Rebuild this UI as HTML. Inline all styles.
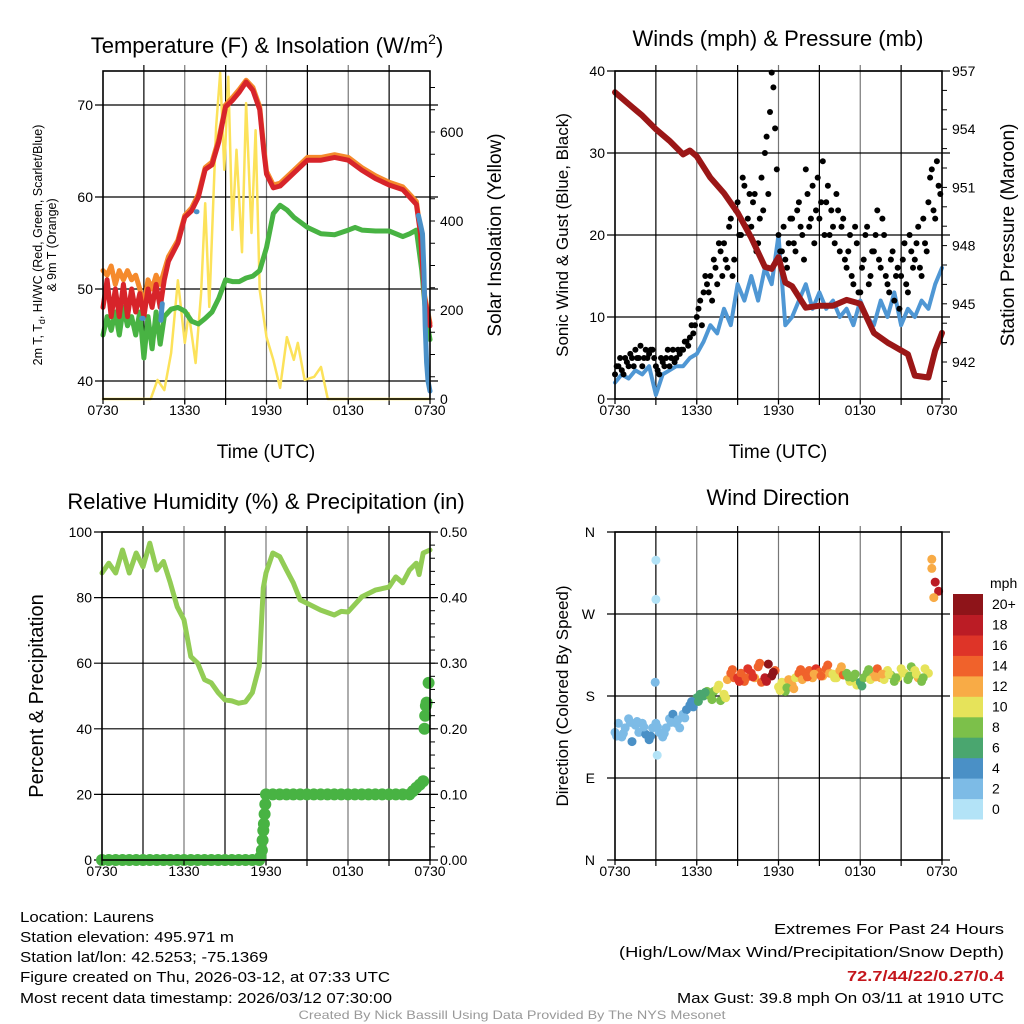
<!DOCTYPE html>
<html><head><meta charset="utf-8">
<style>
html,body{margin:0;padding:0;background:#fff;}
svg{display:block;font-family:"Liberation Sans",Arial,sans-serif;}
</style></head>
<body>
<svg id="c" width="1024" height="1024" viewBox="0 0 1024 1024" xmlns="http://www.w3.org/2000/svg">
<g id="bg"></g>
<g id="marks"></g>
<g id="axes"></g>
<g id="txt" fill="#000">
<text x="267" y="53" font-size="22" text-anchor="middle">Temperature (F) &amp; Insolation (W/m<tspan font-size="14" dy="-9">2</tspan><tspan dy="9">)</tspan></text>
<text x="778" y="46" font-size="22" text-anchor="middle">Winds (mph) &amp; Pressure (mb)</text>
<text x="266" y="509" font-size="22" text-anchor="middle">Relative Humidity (%) &amp; Precipitation (in)</text>
<text x="778" y="505" font-size="22" text-anchor="middle">Wind Direction</text>
<text transform="translate(42,245) rotate(-90)" font-size="12.5" text-anchor="middle">2m T, T<tspan font-size="9" dy="3">d</tspan><tspan dy="-3">, HI/WC (Red, Green, Scarlet/Blue)</tspan></text>
<text transform="translate(56,245) rotate(-90)" font-size="12.5" text-anchor="middle">&amp; 9m T (Orange)</text>
<text transform="translate(501,235) rotate(-90)" font-size="19" text-anchor="middle">Solar Insolation (Yellow)</text>
<text x="266" y="458" font-size="19" text-anchor="middle">Time (UTC)</text>
<text x="778" y="458" font-size="19" text-anchor="middle">Time (UTC)</text>
<text transform="translate(568,235) rotate(-90)" font-size="17" text-anchor="middle">Sonic Wind &amp; Gust (Blue, Black)</text>
<text transform="translate(1014,235) rotate(-90)" font-size="19" text-anchor="middle">Station Pressure (Maroon)</text>
<text transform="translate(43,696) rotate(-90)" font-size="20" text-anchor="middle">Percent &amp; Precipitation</text>
<text transform="translate(568,696) rotate(-90)" font-size="17" text-anchor="middle">Direction (Colored By Speed)</text>
<text x="990" y="588" font-size="14">mph</text>
<g font-size="15">
<text x="20" y="922" textLength="134" lengthAdjust="spacingAndGlyphs">Location: Laurens</text>
<text x="20" y="942" textLength="214" lengthAdjust="spacingAndGlyphs">Station elevation: 495.971 m</text>
<text x="20" y="962" textLength="248" lengthAdjust="spacingAndGlyphs">Station lat/lon: 42.5253; -75.1369</text>
<text x="20" y="982" textLength="370" lengthAdjust="spacingAndGlyphs">Figure created on Thu, 2026-03-12, at 07:33 UTC</text>
<text x="20" y="1003" textLength="372" lengthAdjust="spacingAndGlyphs">Most recent data timestamp: 2026/03/12 07:30:00</text>
</g>
<g font-size="15" text-anchor="end">
<text x="1004" y="934" textLength="230" lengthAdjust="spacingAndGlyphs">Extremes For Past 24 Hours</text>
<text x="1004" y="957" textLength="385" lengthAdjust="spacingAndGlyphs">(High/Low/Max Wind/Precipitation/Snow Depth)</text>
<text x="1004" y="981" fill="#c4161c" font-weight="bold" textLength="157" lengthAdjust="spacingAndGlyphs">72.7/44/22/0.27/0.4</text>
<text x="1004" y="1003" textLength="327" lengthAdjust="spacingAndGlyphs">Max Gust: 39.8 mph On 03/11 at 1910 UTC</text>
</g>
<text x="512" y="1019" font-size="12" fill="#999" text-anchor="middle" textLength="427" lengthAdjust="spacingAndGlyphs">Created By Nick Bassill Using Data Provided By The NYS Mesonet</text>
</g>
</svg>
<script>
// ---------- data ----------
const timeTickLabels = ["0730","1330","1930","0130","0730"];
// Panel 1
const tempTickLabels = [40,50,60,70];
const solarTickLabels = [0,200,400,600];
const tempTimes = [0,0.3,0.6,0.9,1.2,1.5,1.8,2.1,2.4,2.7,3.0,3.3,3.6,3.9,4.2,4.5,4.8,5.5,6,6.5,7,7.5,8,8.5,9,9.5,10,10.5,11,11.5,11.8,12,12.5,13,14,15,16,17,18,19,20,21,22,22.5,23,23.3,23.6,24];
const tempRed = [48,51,47,50,47,50.5,47,50,47.5,49.5,47,50,48,50.5,48,51,53,55,57.8,58.5,60,63,63.5,66,69.8,70.5,71.4,72.5,71.6,69.5,65,62.5,61,61.2,62.6,64,64,64.3,64,62.9,62,61.3,60.8,60,59.2,56,49,46];
const tempOrange = [52,51.5,52.5,50.5,52,51,52,51,51.5,50,48,51,50,51.5,50.5,52,53.5,55.3,58,58.8,60.3,63.2,63.8,66.3,70,70.8,71.7,72.7,71.9,69.8,65.3,62.8,61.3,61.5,62.9,64.3,64.3,64.6,64.3,63.2,62.3,61.6,61.1,60.3,59.5,56.3,49.3,46.3];
const dewTimes = [0,0.3,0.6,0.9,1.2,1.5,1.8,2.1,2.4,2.7,3.0,3.3,3.6,3.9,4.2,4.5,5,5.5,6,6.5,7,7.5,8,8.5,9,9.5,10,10.5,11,11.5,12,12.5,13,13.5,14,15,16,17,18,18.5,19,20,21,22,22.5,23,23.4,23.7,24];
const dewGreen = [45,47,45.5,47.5,45,48,46,47,45,47.5,42.5,47,43.5,47.5,44,47,47.8,48,47.6,46.5,46.2,46.8,47.5,49,51,50.8,50.8,51.2,51.4,52,54.5,58.2,59.1,58.6,57.8,56.7,56,55.9,56.4,56.7,56.4,56.3,56.3,55.7,56,56.4,52,47,44.5];
const wcTimes = [2.85,2.95,null,4.25,4.3,4.35,null,6.85,6.9,null,23.15,23.3,23.45,23.55,23.65,23.75,23.85,24];
const wcBlue = [46.8,46.8,null,46.6,47.6,48.4,null,58.4,58.4,null,58,57,56,52,46,42,40,38.9];
const solarTimes = [0,3.5,4,4.5,5,5.5,6,6.3,6.8,7.2,7.5,7.8,8.3,8.6,8.9,9.2,9.5,9.8,10.2,10.5,10.9,11.2,11.5,12,12.5,13,13.5,14,14.3,14.8,15.5,16,16.5,24];
const solarVals = [0,0,43,20,103,267,126,193,81,238,440,207,611,733,515,724,380,560,330,665,373,604,245,139,88,25,139,88,126,43,50,72,0,0];
// Panel 2
const windTickLabels = [0,10,20,30,40];
const pressTickLabels = [942,945,948,951,954,957];
const gustVals = [3,4,3.5,5,4,5,6,5,4,6,5.5,6, 4,3,4.5,5,4,6,5,5.5, 6,7,7.5,8, 10,12,13,14, 15,17,14,18, 19,16,22,17, 24,20,26,22, 21,25,19,27, 30,25,39.8,33, 20,18,17,19, 22,18,24,20, 28,21,26,23, 22,29,24,20, 21,25,18,22, 16,20,14,19, 13,17,21,15, 18,23,16,20, 14,17,12,16, 15,19,13,18, 17,21,15,19, 24,28,22,26];
const gustVals2 = [4,5,3,4.5,5.5,4,5,6.5,5,5,6,5, 3.5,5,4,6,5,4.5,6,6, 7,6.5,9,9, 11,9,15,13, 12,16,19,15, 17,21,15,23, 20,27,21,25, 24,18,22,23, 32,35,38,28, 18,21,16,22, 19,23,21,17, 25,22,19,27, 24,20,26,23, 19,23,21,17, 18,15,21,13, 16,20,14,18, 20,17,22,15, 13,18,15,11, 17,14,20,16, 19,16,22,18, 27,23,29,25];
const windVals = [2,3,2.5,3.5,3,4,0.5,3,3.5,4,4,5,5.5,7,9,8,11,9,14,12,15,12,16,14,20,9,10,12,14,11,13,11,12,10,11,9,12,10,9,12,10,13,9,11,10,12,11,14,16];
const pressTimes = [0,1,2,3,4,5,5.5,6,7,8,9,10,11,11.5,12,12.5,13,14,15,16,17,18,19,20,21,21.5,22,23,23.5,24];
const pressVals = [955.9,955.3,954.7,954,953.4,952.7,952.9,952.6,951.5,950.7,949.7,948.4,946.9,946.8,947.4,946.1,945.9,944.8,944.9,944.9,945.2,945,943.5,943,942.6,942.4,941.3,941.2,942.6,943.5];
// Panel 3
const rhTickLabels = [0,20,40,60,80,100];
const precipTickLabels = ["0.00","0.10","0.20","0.30","0.40","0.50"];
const rhTimes = [0,0.5,1,1.5,2,2.5,3,3.5,4,4.5,5,5.5,6,6.5,7,7.5,8,8.5,9,9.5,10,10.5,11,11.5,11.8,12,12.5,13,13.5,14,14.5,15,16,17,17.5,18,19,20,21,21.5,22,22.5,23,23.2,23.5,24];
const rhVals = [87.5,90.5,87.5,94.5,87.5,93.6,89.4,96.6,88.4,91,84.5,77.2,73.2,62,60,55,54,51,48.8,48.5,47.8,48.2,51,59,83,87.5,93.6,92.5,88.4,84.5,79.3,78.3,76.2,74.7,75.8,75.6,80.2,82.3,83.2,86.3,84.5,88.4,90.5,87,93.6,94.5];
const precipTimes = [0,0.5,1,1.5,2,2.5,3,3.5,4,4.5,5,5.5,6,6.5,7,7.5,8,8.5,9,9.5,10,10.5,11,11.5,11.6,11.7,11.75,11.8,11.85,11.9,11.95,12,12.5,13,13.5,14,14.5,15,15.5,16,16.5,17,17.5,18,18.5,19,19.5,20,20.5,21,21.5,22,22.5,22.75,23,23.25,23.5,23.6,23.65,23.7,23.75,23.9];
const precipVals = [0,0,0,0,0,0,0,0,0,0,0,0,0,0,0,0,0,0,0,0,0,0,0,0,0.005,0.015,0.03,0.045,0.055,0.07,0.085,0.1,0.1,0.1,0.1,0.1,0.1,0.1,0.1,0.1,0.1,0.1,0.1,0.1,0.1,0.1,0.1,0.1,0.1,0.1,0.1,0.1,0.1,0.105,0.11,0.115,0.12,0.2,0.22,0.235,0.24,0.27];
// Panel 4
const dirTickLabels = ["N","E","S","W","N"];
const dirVals = [140,150,135,145,155,130,148,140,150,138,132,145, 150,140,135,145,155,160,150,145, 160,165,170,168, 178,182,180,185, 180,185,188,175, 182,198,205,200, 200,205,196,210, 205,200,212,195, 200,215,202,208, 190,195,185,198, 192,200,205,198, 205,208,200,210, 206,202,210,205, 204,200,208,203, 205,196,200,192, 195,200,205,198, 205,210,200,198, 208,203,196,200, 210,205,198,212, 208,200,196,210, 205,320,305,295];
const dirSpeeds = [3,3,2,3,3,4,3,3,2,4,4,3, 2,2,3,3,3,4,3,3, 3,4,4,5, 6,6,7,8, 8,9,10,9, 10,13,14,15, 16,15,14,17, 16,13,15,14, 18,20,21,15, 11,10,9,12, 13,11,14,12, 15,14,13,16, 14,12,15,13, 11,10,12,14, 9,10,8,11, 7,8,9,10, 12,14,13,10, 11,9,8,10, 10,11,9,8, 10,12,9,11, 10,13,18,18];
const extraDirTimes = [3.0,3.0,2.95,3.1,23.25,23.4];
const extraDirVals = [329,286,195,115,330,288];
const extraDirSpeeds = [1,1,3,1,12,12];
const speedBinLabels = ["0","2","4","6","8","10","12","14","16","18","20+"];
const speedColors = ["#b3e3f7","#7dbbe6","#4a90c6","#4aa66f","#7cc04a","#e6e35a","#f8ab46","#f0622b","#de3428","#bb1c25","#8e1419"];

// ---------- helpers ----------
const NS="http://www.w3.org/2000/svg";
const G={bg:document.getElementById('bg'),marks:document.getElementById('marks'),axes:document.getElementById('axes')};
function mk(parent,tag,a){const e=document.createElementNS(NS,tag);for(const k in a)e.setAttribute(k,a[k]);G[parent].appendChild(e);return e;}
const P1={x0:103,x1:430,y0:71,y1:399}, P2={x0:615,x1:942,y0:71,y1:399}, P3={x0:102,x1:430,y0:532,y1:860}, P4={x0:615,x1:942,y0:532,y1:860};
const xs=(P,t)=>P.x0+t/24*(P.x1-P.x0);
const yTemp=v=>381-(v-40)*9.2, ySolar=v=>399-v*0.445;
const yWind=v=>399-v*8.2, yPress=p=>71+(957-p)*19.4;
const yRH=v=>860-v*3.28, yPrecip=v=>860-v*656;
const yDir=d=>860-d*328/360;

function pathFrom(P,times,vals,yf){let d='',pen=false;for(let i=0;i<times.length;i++){if(times[i]===null||vals[i]===null){pen=false;continue;}d+=(pen?'L':'M')+xs(P,times[i]).toFixed(1)+' '+yf(vals[i]).toFixed(1);pen=true;}return d;}

function frame(P,name,hticks,hy){
  for(let k=1;k<8;k++){const x=P.x0+k*(P.x1-P.x0)/8;
    const l=mk('bg','line',{x1:x,x2:x,y1:P.y0-6,y2:P.y1+6,stroke:(k%2?'#000':'#777'),'stroke-width':1.2});
    
    }
  hticks.forEach(v=>{const y=hy(v);const l=mk('bg','line',{x1:P.x0-8,x2:P.x1+8,y1:y,y2:y,stroke:'#000','stroke-width':1.2});
    
    });
  const r=mk('axes','rect',{x:P.x0,y:P.y0,width:P.x1-P.x0,height:P.y1-P.y0,fill:'none',stroke:'#000','stroke-width':1.6});
  
  
  timeTickLabels.forEach((s,i)=>{const x=P.x0+i*(P.x1-P.x0)/4;
    const t=mk('axes','text',{x:x,y:P.y1+16,'font-size':14,'text-anchor':'middle'});t.textContent=s;
    
    
    const tk=mk('axes','line',{x1:x,x2:x,y1:P.y1,y2:P.y1+5,stroke:'#000','stroke-width':1.2});
    
    });
}
function leftLabels(P,name,labels,yf){labels.forEach(v=>{const t=mk('axes','text',{x:P.x0-10,y:yf(v)+5,'font-size':14,'text-anchor':'end'});t.textContent=v;
  
  });}
function rightLabels(P,name,labels,yf,minorStep,lo,hi){labels.forEach(v=>{const t=mk('axes','text',{x:P.x1+10,y:yf(v)+5,'font-size':14});t.textContent=v;
  
  });
  for(let v=lo;v<=hi+1e-9;v+=minorStep){const y=yf(v);if(y<P.y0-1||y>P.y1+1)continue;const l=mk('axes','line',{x1:P.x1,x2:P.x1+5,y1:y,y2:y,stroke:'#000','stroke-width':1});
    
    }}
function line(P,name,times,vals,yf,color,w){const p=mk('marks','path',{d:pathFrom(P,times,vals,yf),fill:'none',stroke:color,'stroke-width':w,'stroke-linejoin':'round','stroke-linecap':'round'});
  
  }
function dot(P,name,t,v,yf,color,r){const c=mk('marks','circle',{cx:xs(P,t).toFixed(1),cy:yf(v).toFixed(1),r:r,fill:color});
  
  }

// ---------- panel 1 ----------
frame(P1,'temperature',tempTickLabels,yTemp);
leftLabels(P1,'temperature',tempTickLabels,yTemp);
rightLabels(P1,'solar',solarTickLabels,ySolar,50,0,800);
line(P1,'solar-insolation-line',solarTimes,solarVals,ySolar,'#fce25a',2.5);
line(P1,'dewpoint-line',dewTimes,dewGreen,yTemp,'#48b343',5);
line(P1,'temperature-9m-line',tempTimes,tempOrange,yTemp,'#f58a2c',5);
line(P1,'temperature-2m-line',tempTimes,tempRed,yTemp,'#d7242a',5);
line(P1,'windchill-line',wcTimes,wcBlue,yTemp,'#4a90c8',5);

// ---------- panel 2 ----------
frame(P2,'winds',windTickLabels,yWind);
leftLabels(P2,'winds',windTickLabels,yWind);
rightLabels(P2,'pressure',pressTickLabels,yPress,1,941,957);
line(P2,'sonic-wind-line',windVals.map((_,i)=>i*0.5),windVals,yWind,'#4f97d4',4);
gustVals.forEach((v,i)=>dot(P2,'gust-point',i*0.25,v,yWind,'#000',3));
gustVals2.forEach((v,i)=>dot(P2,'gust-point',i*0.25+0.125,v,yWind,'#000',3));
line(P2,'pressure-line',pressTimes,pressVals,yPress,'#9b1717',6);

// ---------- panel 3 ----------
frame(P3,'humidity',rhTickLabels,yRH);
leftLabels(P3,'humidity',rhTickLabels,yRH);
precipTickLabels.forEach(s=>{const v=parseFloat(s);const t=mk('axes','text',{x:P3.x1+10,y:yPrecip(v)+5,'font-size':14});t.textContent=s;
  
  });
for(let v=0;v<=0.5001;v+=0.02){const y=yPrecip(v);const l=mk('axes','line',{x1:P3.x1,x2:P3.x1+5,y1:y,y2:y,stroke:'#000','stroke-width':1});
  
  }
line(P3,'relative-humidity-line',rhTimes,rhVals,yRH,'#92cc55',5);
precipTimes.forEach((t,i)=>dot(P3,'precip-point',t,precipVals[i],yPrecip,'#48b343',6));

// ---------- panel 4 ----------
frame(P4,'direction',[0,90,180,270,360],yDir);
dirTickLabels.forEach((s,i)=>{const t=mk('axes','text',{x:P4.x0-20,y:yDir(i*90)+5,'font-size':14,'text-anchor':'end'});t.textContent=s;
  
  });
const colorFor=s=>speedColors[Math.max(0,Math.min(10,Math.floor(s/2)))];
dirVals.forEach((d,i)=>dot(P4,'direction-point',i*0.25,d,yDir,colorFor(dirSpeeds[i]),4.5));
dirVals.forEach((d,i)=>{if(i%2===0&&i<92)dot(P4,'direction-point',i*0.25+0.12,d+((i%4)?4:-4),yDir,colorFor(dirSpeeds[i]),4.5);});
extraDirTimes.forEach((t,i)=>dot(P4,'direction-point',t,extraDirVals[i],yDir,colorFor(extraDirSpeeds[i]),4.5));
speedColors.forEach((c,i)=>{const h=225/11;const y=819-(i+1)*h;
  const r=mk('axes','rect',{x:953,y:y.toFixed(1),width:30,height:(h+0.5).toFixed(1),fill:c});
  
  
  const t=mk('axes','text',{x:992,y:(y+h/2+5).toFixed(1),'font-size':14});t.textContent=speedBinLabels[i];
  
  });
</script>
</body></html>
